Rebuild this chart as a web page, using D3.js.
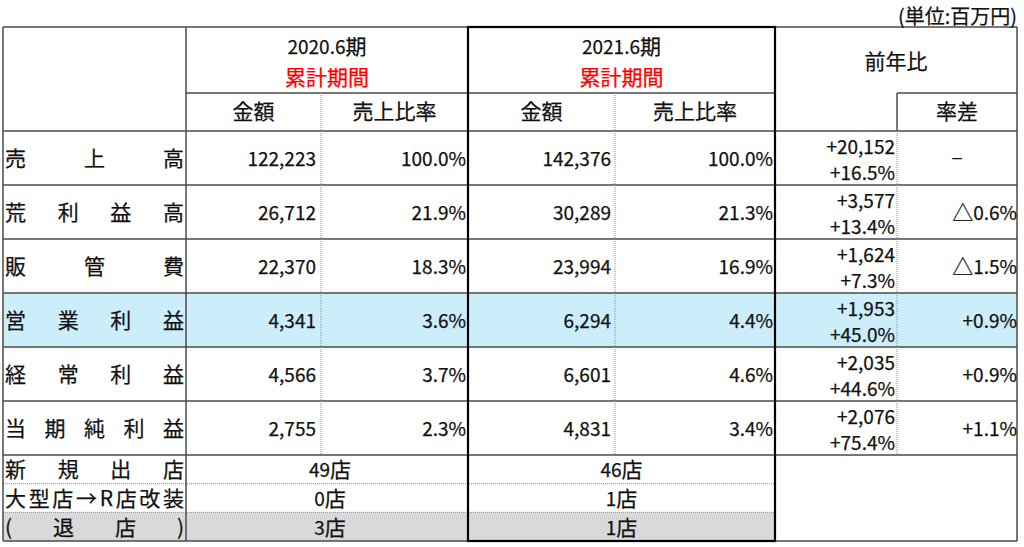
<!DOCTYPE html>
<html><head><meta charset="utf-8">
<script src="https://cdn.jsdelivr.net/npm/d3@7"></script>
<style>
html,body{margin:0;padding:0;background:#fff;}
svg{display:block;font-family:"Noto Sans CJK JP","Noto Sans",sans-serif;}
</style></head>
<body>
<script>
// ---- data ----
const unitLabel = "(単位:百万円)";
const periods = ["2020.6期", "2021.6期"];
const periodSub = "累計期間";
const subHeaders = ["金額", "売上比率"];
const yoyHeader = "前年比";
const rateDiffHeader = "率差";

const rowLabels = ["売上高", "荒利益高", "販管費", "営業利益", "経常利益", "当期純利益"];
const amount2020 = [122223, 26712, 22370, 4341, 4566, 2755];
const ratio2020 = [100.0, 21.9, 18.3, 3.6, 3.7, 2.3];
const amount2021 = [142376, 30289, 23994, 6294, 6601, 4831];
const ratio2021 = [100.0, 21.3, 16.9, 4.4, 4.6, 3.4];
const yoyAmount = [20152, 3577, 1624, 1953, 2035, 2076];
const yoyPercent = [16.5, 13.4, 7.3, 45.0, 44.6, 75.4];
const rateDiff = [null, -0.6, -1.5, 0.9, 0.9, 1.1];

const storeLabels = ["新規出店", "大型店→R店改装", "(退店)"];
const stores2020 = [49, 0, 3];
const stores2021 = [46, 1, 1];
const highlightRow = "営業利益";
const greyStoreRow = "(退店)";

// ---- layout ----
const W = 1024, H = 547;
const svg = d3.select("body").append("svg").attr("width", W).attr("height", H);

const colEdges = [3, 186, 321, 468, 615, 775, 897, 1017];
const xEdge = d3.scaleOrdinal().domain(d3.range(colEdges.length)).range(colEdges);
const TOP = 27, HEAD_MID = 93, HEAD_BOT = 131;
const yRow = d3.scaleLinear().domain([0, rowLabels.length]).range([HEAD_BOT, 455]);
const yStore = d3.scaleLinear().domain([0, storeLabels.length]).range([455, 541]);
const BOTTOM = 541;

const FS_NUM = 19;   // latin / digits
const FS_CJK = 21;   // kanji / kana
const BL = 7;        // baseline offset from visual centre
const LINE = "#4a4a4a";
const fmtInt = d3.format(",");
const fmtPct = v => v.toFixed(1) + "%";

// ---- fills ----
const hi = rowLabels.indexOf(highlightRow);
svg.append("rect").attr("x", xEdge(0)).attr("y", yRow(hi))
  .attr("width", xEdge(7) - xEdge(0)).attr("height", yRow(hi + 1) - yRow(hi))
  .attr("fill", "#CCEEFB");
const gi = storeLabels.indexOf(greyStoreRow);
svg.append("rect").attr("x", xEdge(0)).attr("y", yStore(gi))
  .attr("width", xEdge(5) - xEdge(0)).attr("height", yStore(gi + 1) - yStore(gi))
  .attr("fill", "#D9D9D9");

// ---- lines ----
const g = svg.append("g");
function hline(x1, x2, y, opt = {}) {
  g.append("line").attr("x1", x1).attr("x2", x2).attr("y1", y).attr("y2", y)
    .attr("stroke", opt.color || LINE).attr("stroke-width", opt.w || 1.5)
    .attr("stroke-dasharray", opt.dash || null);
}
function vline(x, y1, y2, opt = {}) {
  g.append("line").attr("x1", x).attr("x2", x).attr("y1", y1).attr("y2", y2)
    .attr("stroke", opt.color || LINE).attr("stroke-width", opt.w || 1.5)
    .attr("stroke-dasharray", opt.dash || null);
}
const DOT = { color: "#8a8a8a", w: 1, dash: "1,1" };

hline(xEdge(0), xEdge(7), TOP);
hline(xEdge(1), xEdge(5), HEAD_MID);
hline(xEdge(6), xEdge(7), HEAD_MID);
hline(xEdge(0), xEdge(7), HEAD_BOT);
for (let i = 1; i <= rowLabels.length; i++) hline(xEdge(0), xEdge(7), yRow(i));
for (let i = 1; i < storeLabels.length; i++) hline(xEdge(0), xEdge(5), yStore(i), DOT);
hline(xEdge(0), xEdge(7), BOTTOM);

vline(xEdge(0), TOP, BOTTOM);
vline(xEdge(1), TOP, BOTTOM);
vline(xEdge(7), TOP, BOTTOM);
vline(xEdge(2), HEAD_MID, yRow(rowLabels.length), DOT);
vline(xEdge(4), HEAD_MID, yRow(rowLabels.length), DOT);
vline(xEdge(6), HEAD_MID, HEAD_BOT);
vline(xEdge(6), HEAD_BOT, yRow(rowLabels.length), DOT);
vline(xEdge(3), TOP, BOTTOM);
// thick box around 2021 period
g.append("rect").attr("x", xEdge(3)).attr("y", TOP)
  .attr("width", xEdge(5) - xEdge(3)).attr("height", BOTTOM - TOP)
  .attr("fill", "none").attr("stroke", "#000").attr("stroke-width", 2.2);

// ---- text ----
const t = svg.append("g").attr("fill", "#111")
  .attr("stroke", "#111").attr("stroke-width", 0.25);
function txt(s, x, yc, anchor, opt = {}) {
  const e = t.append("text").attr("x", x).attr("y", yc + BL)
    .attr("text-anchor", anchor);
  if (opt.size) {
    e.attr("font-size", opt.size).text(s);
  } else {
    const runs = s.match(/[\x00-\x7F]+|[^\x00-\x7F]+/g);
    runs.forEach(r => {
      e.append("tspan")
        .attr("font-size", /^[\x00-\x7F]+$/.test(r) ? FS_NUM : FS_CJK)
        .text(r);
    });
  }
  if (opt.fill) e.attr("fill", opt.fill).attr("stroke", opt.fill);
  if (opt.len) e.attr("textLength", opt.len).attr("lengthAdjust", "spacing");
  return e;
}

txt(unitLabel, xEdge(7), 17, "end", { size: 20 });

// header
periods.forEach((p, i) => {
  const cx = (xEdge(1 + 2 * i) + xEdge(3 + 2 * i)) / 2;
  txt(p, cx, 46.5, "middle");
  txt(periodSub, cx, 77.5, "middle", { fill: "#FF0000" });
  subHeaders.forEach((s, j) => {
    const c = (xEdge(1 + 2 * i + j) + xEdge(2 + 2 * i + j)) / 2;
    txt(s, c, 112, "middle");
  });
});
txt(yoyHeader, (xEdge(5) + xEdge(7)) / 2, 62, "middle");
txt(rateDiffHeader, (xEdge(6) + xEdge(7)) / 2, 112, "middle");

// data rows
rowLabels.forEach((lab, i) => {
  const top = yRow(i);
  const yc = top + 28;
  txt(lab, 5, yc, "start", { size: FS_CJK, len: 179 });
  txt(fmtInt(amount2020[i]), xEdge(2) - 5, yc, "end");
  txt(fmtPct(ratio2020[i]), xEdge(3) - 2, yc, "end");
  txt(fmtInt(amount2021[i]), xEdge(4) - 4, yc, "end");
  txt(fmtPct(ratio2021[i]), xEdge(5) - 2, yc, "end");
  txt("+" + fmtInt(yoyAmount[i]), xEdge(6) - 2, top + 15.5, "end");
  txt("+" + fmtPct(yoyPercent[i]), xEdge(6) - 2, top + 41.5, "end");
  const rd = rateDiff[i];
  if (rd === null) txt("－", (xEdge(6) + xEdge(7)) / 2, top + 24.5, "middle", { size: 13 });
  else txt((rd < 0 ? "△" : "+") + fmtPct(Math.abs(rd)), xEdge(7), yc, "end");
});

// store rows
storeLabels.forEach((lab, i) => {
  const yc = (yStore(i) + yStore(i + 1)) / 2 + 1;
  txt(lab, 5, yc, "start", { size: FS_CJK, len: 179 });
  txt(stores2020[i] + "店", (xEdge(1) + xEdge(3)) / 2 + 3, yc, "middle");
  txt(stores2021[i] + "店", (xEdge(3) + xEdge(5)) / 2, yc, "middle");
});
</script>
</body></html>
